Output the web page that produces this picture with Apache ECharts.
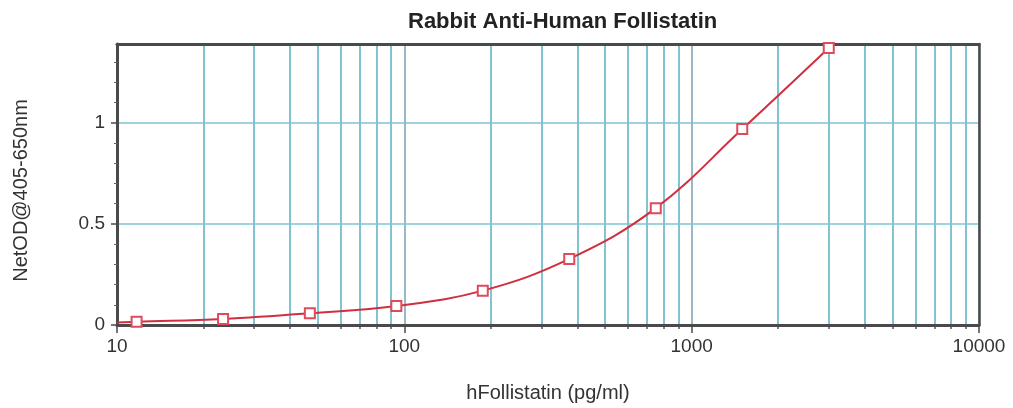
<!DOCTYPE html>
<html>
<head>
<meta charset="utf-8">
<script src="https://cdn.jsdelivr.net/npm/echarts@6/dist/echarts.min.js"></script>
<style>
html,body{margin:0;padding:0;background:#fff;}
#chart{width:1013px;height:408px;}
</style>
</head>
<body>
<div id="chart"></div>
<script>
// ---- data ----
const titleText = 'Rabbit Anti-Human Follistatin';
const xName = 'hFollistatin (pg/ml)';
const yName = 'NetOD@405-650nm';
const concentrations = [11.7, 23.4, 46.9, 93.8, 187.5, 375, 750, 1500, 3000];
const odValues = [0.016, 0.03, 0.058, 0.094, 0.17, 0.327, 0.578, 0.969, 1.37];
const curveStart = [10, 0.012];
const xMajorTicks = [10, 100, 1000, 10000];
const xMinorTicks = [20, 30, 40, 50, 60, 70, 80, 90, 200, 300, 400, 500, 600, 700, 800, 900, 2000, 3000, 4000, 5000, 6000, 7000, 8000, 9000];
const yTicks = [0, 0.5, 1];

const chart = echarts.init(document.getElementById('chart'));
const font = 'Liberation Sans, Arial, sans-serif';
const gridColor = '#7fc4d0';
const frameColor = '#4a4a4a';

const curveData = [{value: curveStart, symbol: 'none'}].concat(
  concentrations.map((c, i) => [c, odValues[i]])
);

chart.setOption({
  animation: false,
  backgroundColor: '#fff',
  title: {
    text: titleText,
    left: 403,
    top: 6,
    textStyle: {fontFamily: font, fontSize: 22, fontWeight: 'bold', color: '#222'}
  },
  grid: {
    left: 117, right: 34, top: 44, bottom: 83,
    show: false
  },
  xAxis: [{
    type: 'log', logBase: 10, min: 10, max: 10000,
    name: xName, nameLocation: 'middle', nameGap: 58,
    nameTextStyle: {fontFamily: font, fontSize: 20, color: '#333'},
    axisLine: {show: true, onZero: false, lineStyle: {color: frameColor, width: 3}},
    axisTick: {show: true, length: 8, lineStyle: {color: frameColor, width: 1.5}},
    axisLabel: {fontFamily: font, fontSize: 19, color: '#333', margin: 12,
      formatter: v => String(Math.round(v))},
    splitLine: {show: true, lineStyle: {color: '#9ab8c4', width: 2}},
    z: 4
  }, {
    type: 'log', logBase: 10, min: 10, max: 10000, position: 'bottom',
    axisLine: {show: false},
    axisTick: {show: true, length: 4, customValues: xMinorTicks, lineStyle: {color: '#555', width: 1.5}},
    axisLabel: {show: false},
    splitLine: {show: true, lineStyle: {color: gridColor, width: 2}}
  }, {
    type: 'log', logBase: 10, min: 10, max: 10000, position: 'top',
    axisLine: {show: true, onZero: false, lineStyle: {color: frameColor, width: 3}},
    axisTick: {show: false}, axisLabel: {show: false}, splitLine: {show: false},
    z: 4
  }],
  yAxis: [{
    type: 'value', min: 0, max: 1.39, interval: 0.5,
    name: yName, nameLocation: 'middle', nameGap: 86, nameRotate: 90,
    nameTextStyle: {fontFamily: font, fontSize: 20, color: '#333', padding: [0, 12, 0, 0]},
    axisLine: {show: true, onZero: false, lineStyle: {color: frameColor, width: 3}},
    axisTick: {show: true, length: 6, customValues: yTicks, lineStyle: {color: frameColor, width: 1.5}},
    minorTick: {show: true, splitNumber: 5, length: 3, lineStyle: {color: '#666', width: 1}},
    axisLabel: {fontFamily: font, fontSize: 19, color: '#333', margin: 12, customValues: yTicks,
      formatter: v => String(v)},
    splitLine: {show: true, lineStyle: {color: gridColor, width: 1.5}},
    z: 4
  }, {
    type: 'value', min: 0, max: 1.39, position: 'right',
    axisLine: {show: true, onZero: false, lineStyle: {color: frameColor, width: 2.5}},
    axisTick: {show: false}, axisLabel: {show: false}, splitLine: {show: false},
    z: 4
  }],
  series: [{
    type: 'line',
    xAxisIndex: 0,
    yAxisIndex: 0,
    data: curveData,
    smooth: 0.4,
    symbol: 'emptyRect',
    symbolSize: 10,
    showSymbol: true,
    itemStyle: {color: '#df4a5c', borderWidth: 1.5},
    lineStyle: {color: '#cf2f3e', width: 2},
    z: 5
  }]
});
</script>
</body>
</html>
